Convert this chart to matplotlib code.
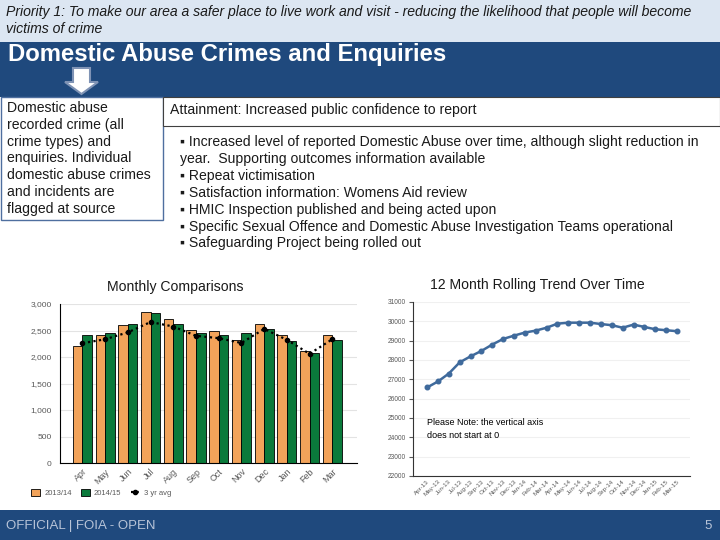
import numpy as np
import matplotlib
matplotlib.use("Agg")
from matplotlib import pyplot as plt
from matplotlib.patches import Rectangle, Polygon
from matplotlib.ticker import FuncFormatter, MultipleLocator

plt.rcParams['font.family'] = ['Liberation Sans', 'DejaVu Sans']

# monthly comparison data
months = ['Apr', 'May', 'Jun', 'Jul', 'Aug', 'Sep', 'Oct', 'Nov', 'Dec', 'Jan', 'Feb', 'Mar']
y2013 = [2200, 2420, 2605, 2855, 2725, 2515, 2490, 2315, 2620, 2415, 2115, 2415]
y2014 = [2415, 2455, 2625, 2835, 2630, 2455, 2415, 2455, 2530, 2305, 2080, 2325]
avg3 = [2260, 2335, 2465, 2660, 2575, 2400, 2355, 2265, 2530, 2325, 2060, 2335]

# 12 month rolling trend
roll_labels = ['Apr-13', 'May-13', 'Jun-13', 'Jul-13', 'Aug-13', 'Sep-13', 'Oct-13', 'Nov-13',
               'Dec-13', 'Jan-14', 'Feb-14', 'Mar-14', 'Apr-14', 'May-14', 'Jun-14', 'Jul-14',
               'Aug-14', 'Sep-14', 'Oct-14', 'Nov-14', 'Dec-14', 'Jan-15', 'Feb-15', 'Mar-15']
rolling = [26580, 26890, 27300, 27880, 28190, 28470, 28800, 29090, 29260, 29420, 29520, 29670,
           29880, 29930, 29930, 29930, 29860, 29800, 29670, 29830, 29710, 29590, 29540, 29490]

W, H = 720, 540
navy = '#1f497d'
orange = '#f2a35a'
green = '#0a7a3b'
gray_txt = '#595959'
fs = 10.1


def fx(x):
    return x / W


def fy(y):
    return 1 - y / H


fig = plt.figure(figsize=(7.2, 5.4), dpi=100)
fig.patch.set_facecolor('white')

# background bands
fig.patches.append(Rectangle((0, fy(42)), 1, 42 / H, transform=fig.transFigure,
                             facecolor='#dce6f2', edgecolor='none', zorder=0))
fig.patches.append(Rectangle((0, fy(97)), 1, 55 / H, transform=fig.transFigure,
                             facecolor=navy, edgecolor='none', zorder=0))
fig.patches.append(Rectangle((0, 0), 1, 30 / H, transform=fig.transFigure,
                             facecolor=navy, edgecolor='none', zorder=0))

fig.text(fx(6), fy(12), 'Priority 1: To make our area a safer place to live work and visit - reducing the likelihood that people will become',
         fontsize=fs, style='italic', va='center', color='#1a1a1a')
fig.text(fx(6), fy(29), 'victims of crime', fontsize=fs, style='italic', va='center', color='#1a1a1a')
fig.text(fx(8), fy(55), 'Domestic Abuse Crimes and Enquiries', fontsize=17.2, fontweight='bold',
         color='white', va='center')

# down arrow
arrow = [(73, 68), (90, 68), (90, 82), (98, 82), (81.5, 94), (65, 82), (73, 82)]
fig.patches.append(Polygon([(fx(a), fy(b)) for a, b in arrow], closed=True, transform=fig.transFigure,
                           facecolor='white', edgecolor='#7f93b5', lw=1.5, zorder=2))

# left text box
fig.patches.append(Rectangle((fx(0.5), fy(220)), 162 / W, 123 / H, transform=fig.transFigure,
                             facecolor='white', edgecolor='#4f6f9f', lw=1, zorder=3))
box_lines = ['Domestic abuse', 'recorded crime (all', 'crime types) and', 'enquiries. Individual',
             'domestic abuse crimes', 'and incidents are', 'flagged at source']
for i, t in enumerate(box_lines):
    fig.text(fx(7), fy(108 + 16.8 * i), t, fontsize=fs, va='center', color='#1a1a1a', zorder=4)

# attainment box
fig.patches.append(Rectangle((fx(163), fy(126)), 557 / W, 29 / H, transform=fig.transFigure,
                             facecolor='white', edgecolor='#404040', lw=0.8, zorder=3))
fig.text(fx(170), fy(110), 'Attainment: Increased public confidence to report', fontsize=fs,
         va='center', color='#1a1a1a', zorder=4)

bullets = ['\u25aa Increased level of reported Domestic Abuse over time, although slight reduction in',
           'year.  Supporting outcomes information available',
           '\u25aa Repeat victimisation',
           '\u25aa Satisfaction information: Womens Aid review',
           '\u25aa HMIC Inspection published and being acted upon',
           '\u25aa Specific Sexual Offence and Domestic Abuse Investigation Teams operational',
           '\u25aa Safeguarding Project being rolled out']
for i, t in enumerate(bullets):
    fig.text(fx(180), fy(142 + 16.9 * i), t, fontsize=fs, va='center', color='#1a1a1a')

fig.text(fx(107), fy(287), 'Monthly Comparisons', fontsize=fs, va='center', color='#1a1a1a')
fig.text(fx(430), fy(285), '12 Month Rolling Trend Over Time', fontsize=fs, va='center', color='#1a1a1a')

# footer
fig.text(fx(6), fy(526), 'OFFICIAL | FOIA - OPEN', fontsize=9.5, va='center', color='#b8c4d8')
fig.text(fx(712), fy(526), '5', fontsize=9.5, va='center', ha='right', color='#b8c4d8')

# ---- monthly comparisons chart ----
ax1 = fig.add_axes([fx(60), fy(463), 297 / W, 159 / H])
x = np.arange(len(months))
bw = 0.42
b1 = ax1.bar(x - bw / 2, y2013, bw, color=orange, edgecolor='black', lw=0.6, label='2013/14', zorder=2)
b2 = ax1.bar(x + bw / 2, y2014, bw, color=green, edgecolor='black', lw=0.6, label='2014/15', zorder=2)
l1, = ax1.plot(x, avg3, color='black', ls=(0, (1, 1.5)), lw=1.6, marker='o', ms=3, label='3 yr avg', zorder=3)
ax1.set_xlim(-0.99, 12.09)
ax1.set_ylim(0, 3000)
ax1.yaxis.set_major_locator(MultipleLocator(500))
ax1.yaxis.set_major_formatter(FuncFormatter(lambda v, p: f'{int(v):,}'))
ax1.grid(axis='y', color='#e3e3e3', lw=0.8, zorder=0)
ax1.set_xticks(x)
ax1.set_xticklabels(months, rotation=45, ha='right', rotation_mode='anchor', fontsize=6.5, color=gray_txt)
ax1.tick_params(axis='y', labelsize=6, colors=gray_txt, length=0, pad=6)
ax1.tick_params(axis='x', length=0, pad=3)
for s in ['top', 'right']:
    ax1.spines[s].set_visible(False)
ax1.spines['left'].set_color('black')
ax1.spines['bottom'].set_color('black')
ax1.legend(handles=[b1, b2, l1], loc='upper left', bbox_to_anchor=(-0.12, -0.12), ncol=3, fontsize=5.5,
           frameon=False, handlelength=1.2, handleheight=1.0, columnspacing=1.2, handletextpad=0.5,
           labelcolor=gray_txt)

# ---- rolling trend chart ----
ax2 = fig.add_axes([fx(413), fy(476), 277 / W, 174 / H])
x2 = np.arange(len(roll_labels))
ax2.plot(x2, rolling, color='#3f6a9c', lw=1.8, marker='o', ms=3.3, zorder=3)
ax2.set_xlim(-1.3, 24.2)
ax2.set_ylim(22000, 31000)
ax2.yaxis.set_major_locator(MultipleLocator(1000))
ax2.grid(axis='y', color='#f0f0f0', lw=0.8, zorder=0)
ax2.set_xticks(x2)
ax2.set_xticklabels(roll_labels, rotation=45, ha='right', rotation_mode='anchor', fontsize=4.5, color=gray_txt)
ax2.tick_params(axis='y', labelsize=4.8, colors=gray_txt, length=3, pad=2)
ax2.tick_params(axis='x', length=0, pad=2)
for s in ['top', 'right']:
    ax2.spines[s].set_visible(False)
ax2.spines['left'].set_color('#333333')
ax2.spines['bottom'].set_color('#333333')
ax2.text(0.0, 25000, 'Please Note: the vertical axis\ndoes not start at 0', fontsize=6.5,
         va='top', ha='left', color='black', linespacing=1.5)

fig.savefig('out.png', dpi=100)
